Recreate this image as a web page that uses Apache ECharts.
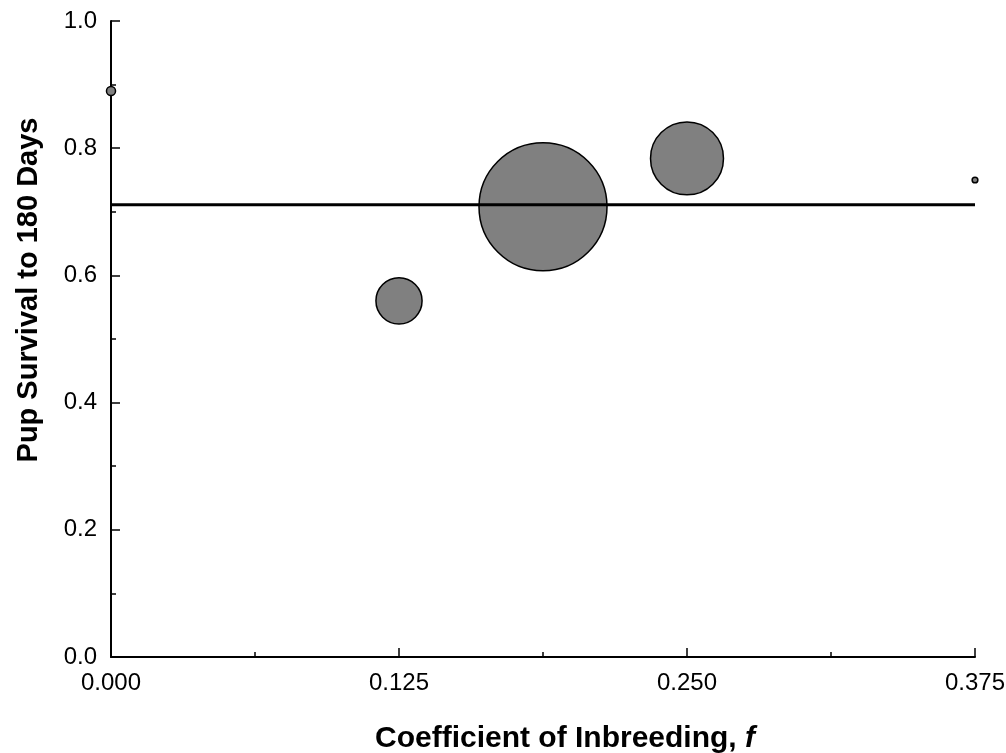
<!DOCTYPE html>
<html>
<head>
<meta charset="utf-8">
<script src="https://cdn.jsdelivr.net/npm/echarts@6/dist/echarts.min.js"></script>
<style>html,body{margin:0;padding:0;background:#fff}#c{width:1006px;height:753px}</style>
</head>
<body>
<div id="c"></div>
<script>
// Data
var inbreeding = [0.000, 0.125, 0.1875, 0.250, 0.375];
var survival   = [0.890, 0.560, 0.708, 0.784, 0.750];
var sampleN    = [5, 130, 1000, 325, 2];
var fitX = [0.000, 0.375];
var fitY = [0.711, 0.711];
var xTicks = [0.000, 0.125, 0.250, 0.375];
var yTicks = [0.0, 0.2, 0.4, 0.6, 0.8, 1.0];

var FONT = "'Liberation Sans', Arial, sans-serif";
var maxN = Math.max.apply(null, sampleN);
function sizeOf(n){ return 128 * Math.sqrt(n / maxN); }

var bubbleData = inbreeding.map(function(x, i){ return [x, survival[i], sampleN[i]]; });
var lineData = fitX.map(function(x, i){ return [x, fitY[i]]; });

var chart = echarts.init(document.getElementById('c'), null, {renderer: 'canvas'});
chart.setOption({
  animation: false,
  backgroundColor: '#fff',
  grid: {left: 111, right: 31, top: 21, bottom: 96, containLabel: false, outerBoundsMode: 'none'},
  xAxis: {
    type: 'value', min: xTicks[0], max: xTicks[xTicks.length-1], interval: 0.125,
    name: '{b|Coefficient of Inbreeding, }{i|f}',
    nameLocation: 'middle', nameGap: 67,
    nameTextStyle: {
      padding: [0, 0, 0, 44],
      rich: {
        b: {fontFamily: FONT, fontWeight: 'bold', fontSize: 30, color: '#000'},
        i: {fontFamily: FONT, fontWeight: 'bold', fontStyle: 'italic', fontSize: 30, color: '#000'}
      }
    },
    splitLine: {show: false},
    axisLine: {show: true, onZero: false, lineStyle: {color: '#000', width: 2}},
    axisTick: {show: true, inside: true, length: 9, lineStyle: {color: '#000', width: 1.5}},
    minorTick: {show: true, splitNumber: 2, length: 5, lineStyle: {color: '#000', width: 1.5}},
    axisLabel: {margin: 14, fontFamily: FONT, fontSize: 24, color: '#000',
      formatter: function(v){ return v.toFixed(3); }}
  },
  yAxis: {
    type: 'value', min: yTicks[0], max: yTicks[yTicks.length-1], interval: 0.2,
    name: 'Pup Survival to 180 Days',
    nameLocation: 'middle', nameGap: 68, nameRotate: 90,
    nameTextStyle: {fontFamily: FONT, fontWeight: 'bold', fontSize: 29, color: '#000',
      padding: [0, 0, 0, 98]},
    splitLine: {show: false},
    axisLine: {show: true, onZero: false, lineStyle: {color: '#000', width: 2}},
    axisTick: {show: true, inside: true, length: 9, lineStyle: {color: '#000', width: 1.5}},
    minorTick: {show: true, splitNumber: 2, length: 5, lineStyle: {color: '#000', width: 1.5}},
    axisLabel: {margin: 14, fontFamily: FONT, fontSize: 24, color: '#000',
      formatter: function(v){ return v.toFixed(1); }}
  },
  series: [
    {
      type: 'scatter', data: bubbleData, clip: false, z: 2,
      symbolSize: function(d){ return sizeOf(d[2]); },
      itemStyle: {color: '#808080', borderColor: '#000', borderWidth: 1.5, opacity: 1}
    },
    {
      type: 'line', data: lineData, clip: false, z: 3, symbol: 'none',
      lineStyle: {color: '#000', width: 3}
    }
  ]
});
</script>
</body>
</html>
